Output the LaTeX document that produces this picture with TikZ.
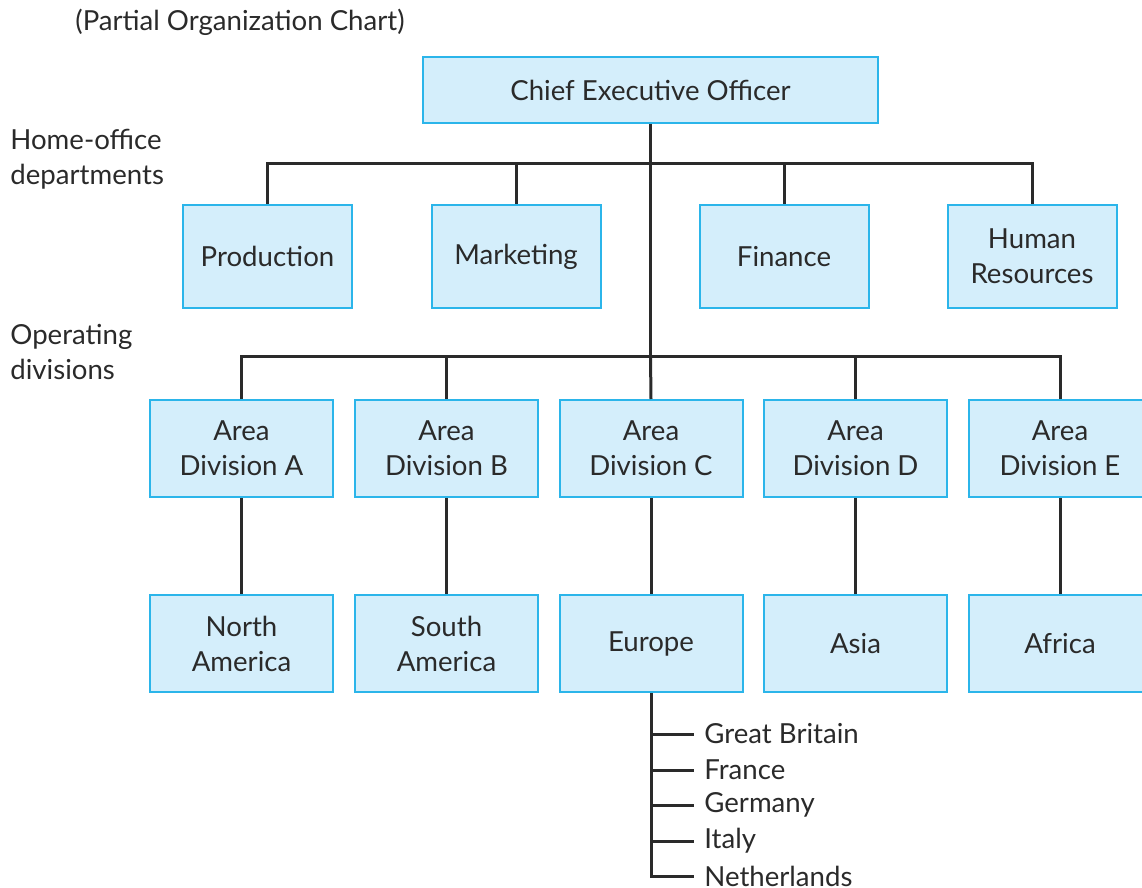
\documentclass[tikz,border=0pt]{standalone}
\usepackage{fontspec}
\setmainfont{Lato}
\usetikzlibrary{positioning}
\definecolor{boxfill}{HTML}{D4EEFB}
\definecolor{boxline}{HTML}{2BB5EA}
\definecolor{ink}{HTML}{2A2A2A}
\begin{document}
\begin{tikzpicture}[x=0.5pt,y=-0.5pt,font=\fontsize{13.8}{17.5}\selectfont,
 unit/.style={draw=boxline,line width=1pt,fill=boxfill,align=center,
 text=ink,inner sep=0pt},
 dept/.style={unit,minimum width=84.5pt,minimum height=51.5pt},
 area/.style={unit,minimum width=91.5pt,minimum height=48.5pt},
 tag/.style={text=ink,align=left,inner sep=0pt,anchor=west},
 country/.style={text=ink,inner sep=5pt,anchor=west},
 link/.style={draw=ink,line width=1.5pt}]
\useasboundingbox (0,0) rectangle (1142,888);
% captions
\node[tag,anchor=center] (caption) at (240,22) {(Partial Organization Chart)};
\node[tag] (home) at (10,159) {Home-office\\departments};
\node[tag] (oper) at (10,352) {Operating\\divisions};
% top
\node[unit,minimum width=227.5pt,minimum height=33pt] (ceo) at (650.5,90)
 {Chief Executive Officer};
\coordinate (hbar) at (650.5,164);
\coordinate (obar) at (650.5,356);
% home-office departments
\node[dept] (prod) at (267.5,256.5) {Production};
\node[dept] (mkt) at (516,256.5) {Marketing};
\node[dept] (fin) at (784,256.5) {Finance};
\node[dept] (hr) at (1032,256.5) {Human\\Resources};
% operating divisions
\node[area] (divA) at (241.5,448.5) {Area\\Division A};
\node[area] (divB) at (446.5,448.5) {Area\\Division B};
\node[area] (divC) at (651,448.5) {Area\\Division C};
\node[area] (divD) at (855.5,448.5) {Area\\Division D};
\node[area] (divE) at (1060,448.5) {Area\\Division E};
\node[area] (namer) at (241.5,643.5) {North\\America};
\node[area] (samer) at (446.5,643.5) {South\\America};
\node[area] (europe) at (651,643.5) {Europe};
\node[area] (asia) at (855.5,643.5) {Asia};
\node[area] (africa) at (1060,643.5) {Africa};
% countries
\node[country] (gb) at (694,734) {Great Britain};
\node[country] (fr) at (694,770) {France};
\node[country] (de) at (694,805) {Germany};
\node[country] (it) at (694,841) {Italy};
\node[country] (nl) at (694,876) {Netherlands};
% connectors
\draw[link] (ceo.south) -- (obar);
\draw[link] (prod.north) |- (hbar) -| (hr.north);
\draw[link] (mkt.north) |- (hbar);
\draw[link] (fin.north) |- (hbar);
\draw[link] (divA.north) |- (obar) -| (divE.north);
\draw[link] (divB.north) |- (obar);
\draw[link] (divD.north) |- (obar);
\draw[link] (obar) -- (divC.north);
\draw[link] (divA) -- (namer);
\draw[link] (divB) -- (samer);
\draw[link] (divC) -- (europe);
\draw[link] (divD) -- (asia);
\draw[link] (divE) -- (africa);
\draw[link] (europe.south) |- (nl.west);
\draw[link] (europe.south |- gb.west) -- (gb.west);
\draw[link] (europe.south |- fr.west) -- (fr.west);
\draw[link] (europe.south |- de.west) -- (de.west);
\draw[link] (europe.south |- it.west) -- (it.west);
\end{tikzpicture}
\end{document}
